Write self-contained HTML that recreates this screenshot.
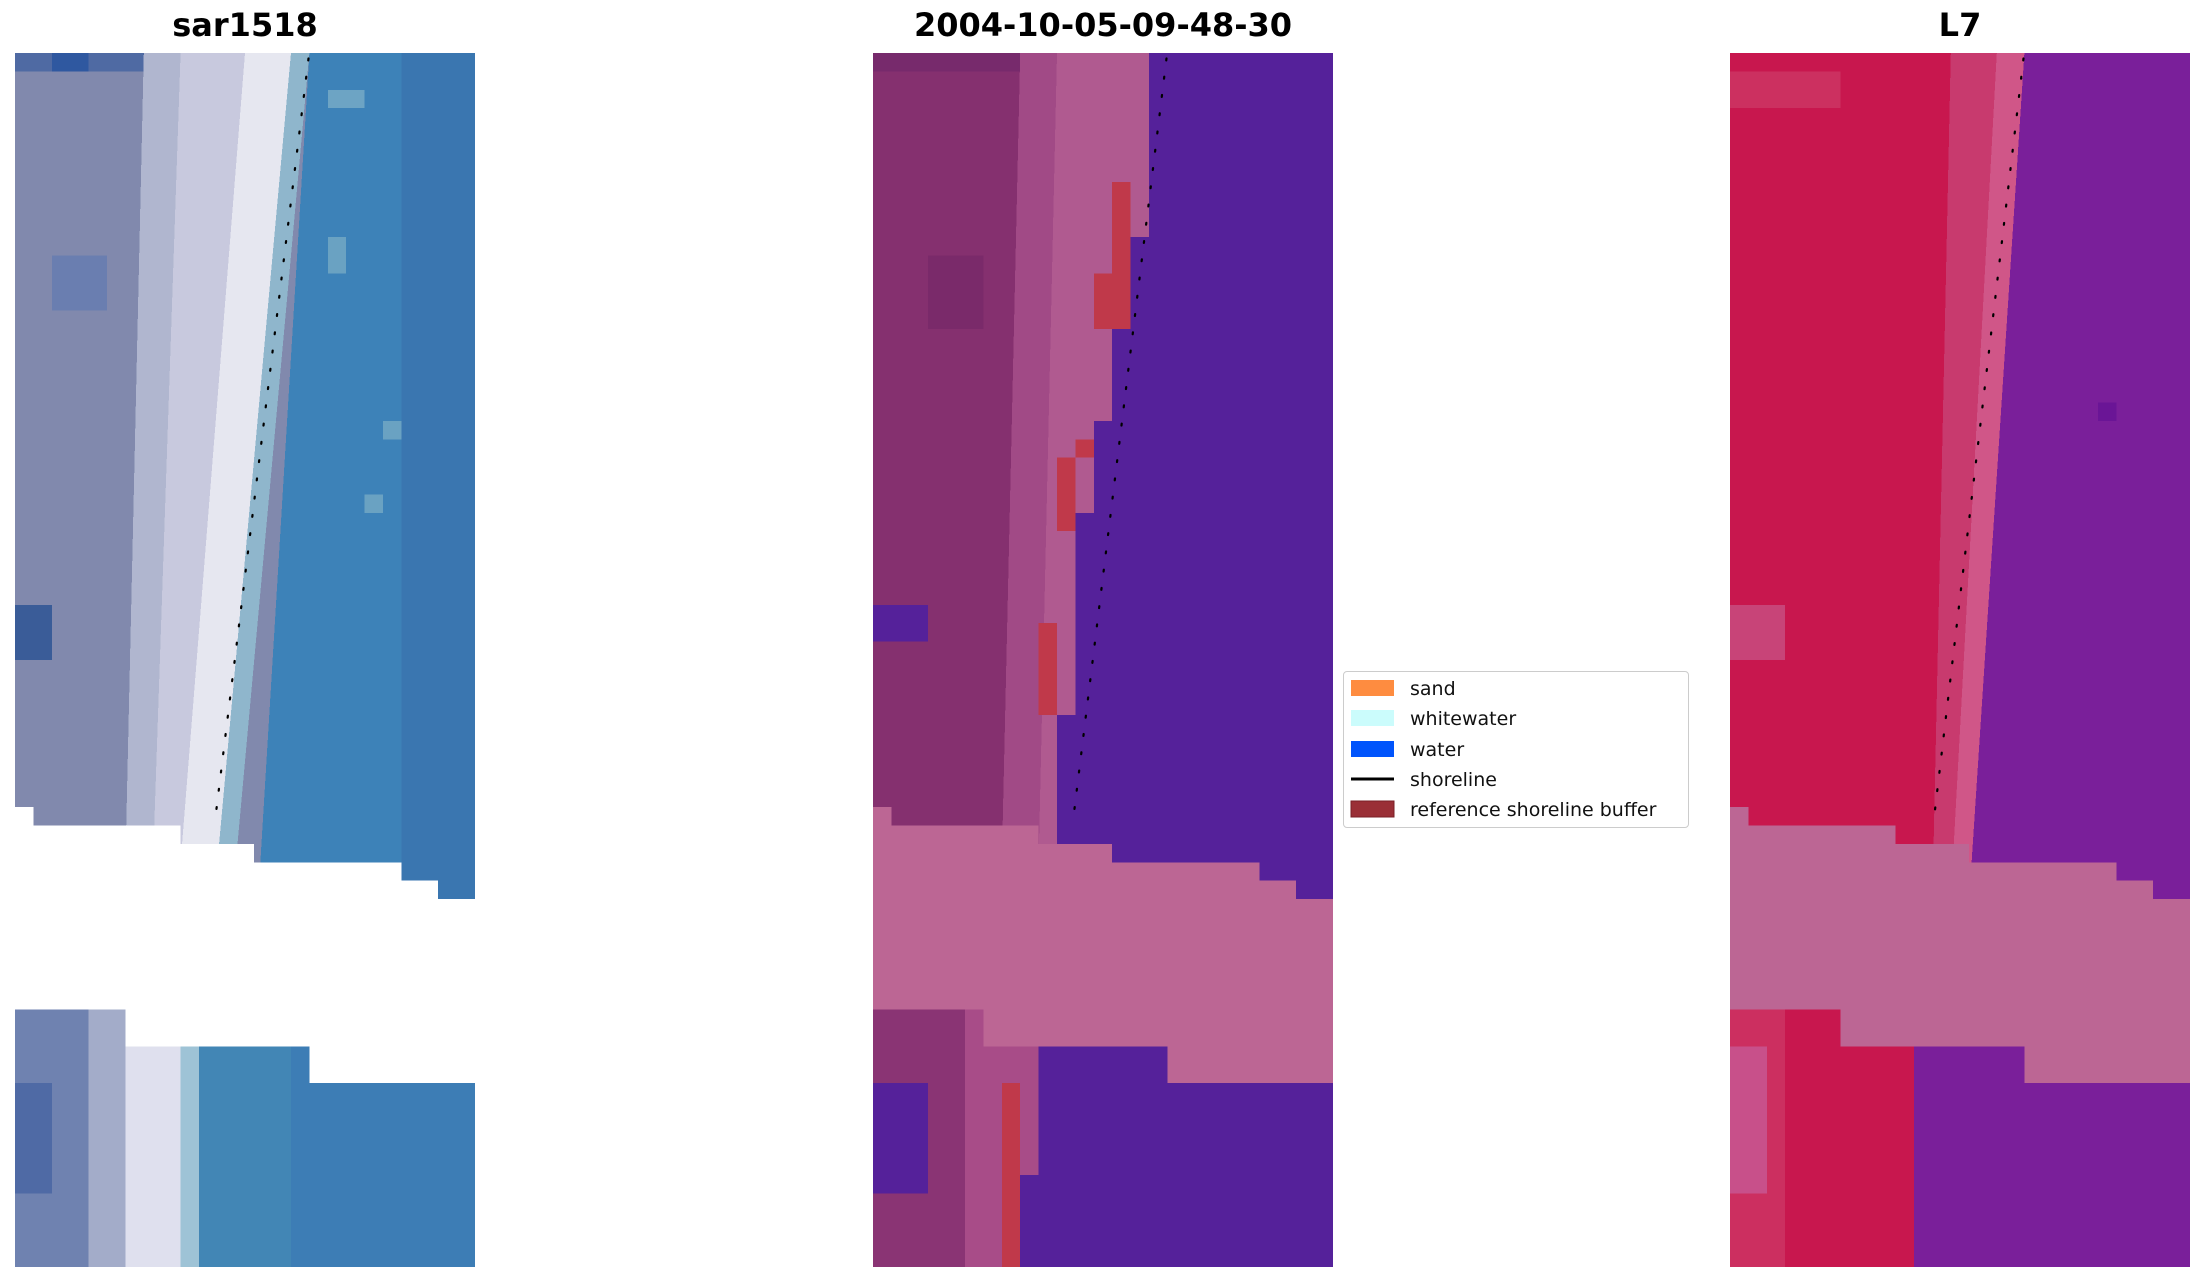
<!DOCTYPE html>
<html><head><meta charset="utf-8"><style>
body{margin:0;background:#fff;width:2205px;height:1283px;position:relative;overflow:hidden;font-family:"DejaVu Sans","Liberation Sans",sans-serif}
.t{position:absolute;top:6px;font-weight:bold;font-size:32px;text-align:center;width:460px}
svg.p{position:absolute;top:53px;width:460px;height:1214px}
</style></head><body>
<div class="t" style="left:15px">sar1518</div>
<div class="t" style="left:873px">2004-10-05-09-48-30</div>
<div class="t" style="left:1730px">L7</div>

<svg class="p" style="left:15px" viewBox="0 0 25 66" preserveAspectRatio="none" shape-rendering="crispEdges">
<rect width="25" height="66" fill="#8189ad"/>
<rect x="0" y="0" width="7" height="1" fill="#4f6aa3"/>
<rect x="2" y="0" width="2" height="1" fill="#2f58a0"/>
<rect x="0" y="30" width="2" height="3" fill="#3a5c98"/>
<rect x="2" y="11" width="3" height="3" fill="#6a7eb0"/>
<polygon points="7,0 13,0 9.5,44 6,44" fill="#b0b6cf"/>
<polygon points="9,0 13,0 10,44 7.5,44" fill="#c8c9de"/>
<polygon points="12.5,0 15,0 11,44 9,44" fill="#e6e7f0"/>
<polygon points="15,0 16,0 12,44 11,44" fill="#8fb6cc"/>
<polygon points="16,0 25,0 25,66 12,66" fill="#3d82b8"/>
<polygon points="21,0 25,0 25,66 21,66" fill="#3a76b0"/>
<rect x="17" y="2" width="2" height="1" fill="#6da4c4"/>
<rect x="17" y="10" width="1" height="2" fill="#6aa2c2"/>
<rect x="20" y="20" width="1" height="1" fill="#6aa2c2"/>
<rect x="19" y="24" width="1" height="1" fill="#6aa2c2"/>
<rect x="0" y="52" width="6" height="14" fill="#6f82b0"/>
<rect x="0" y="56" width="2" height="6" fill="#4f6aa5"/>
<rect x="4" y="52" width="2" height="14" fill="#a3acc9"/>
<rect x="6" y="52" width="3" height="14" fill="#dfe0ee"/>
<rect x="9" y="52" width="1" height="14" fill="#9ec3d6"/>
<rect x="10" y="52" width="15" height="14" fill="#4286b5"/>
<rect x="15" y="52" width="10" height="14" fill="#3d7db5"/>
<polygon points="0,41 1,41 1,42 9,42 9,43 13,43 13,44 21,44 21,45 23,45 23,46 25,46 25,56 16,56 16,54 6,54 6,52 0,52" fill="#fff"/>
<line x1="15.95" y1="0.3" x2="10.9" y2="41.5" stroke="#000" stroke-width="0.12" stroke-dasharray="0.1 0.9" stroke-linecap="round" shape-rendering="auto"/>
</svg>

<svg class="p" style="left:873px" viewBox="0 0 25 66" preserveAspectRatio="none" shape-rendering="crispEdges">
<rect width="25" height="66" fill="#85306f"/>
<rect x="0" y="0" width="8" height="1" fill="#772a6c"/>
<rect x="3" y="11" width="3" height="4" fill="#7a2a6a"/>
<polygon points="8,0 16,0 16,44 7,44" fill="#a14a86"/>
<polygon points="10,0 16,0 16,44 9,44" fill="#b05a90"/>
<polygon points="15,0 25,0 25,46 10,46 10,36 11,36 11,25 12,25 12,20 13,20 13,15 14,15 14,10 15,10" fill="#55219a"/>
<rect x="13" y="7" width="1" height="8" fill="#c0394a"/>
<rect x="12" y="12" width="2" height="3" fill="#c0394a"/>
<rect x="11" y="21" width="1" height="1" fill="#c0394a"/>
<rect x="10" y="22" width="1" height="4" fill="#c0394a"/>
<rect x="9" y="31" width="1" height="5" fill="#c0394a"/>
<rect x="0" y="30" width="3" height="2" fill="#55219a"/>
<rect x="0" y="52" width="25" height="14" fill="#8a3474"/>
<rect x="5" y="52" width="4" height="14" fill="#a84c88"/>
<rect x="9" y="54" width="16" height="12" fill="#55219a"/>
<rect x="8" y="61" width="1" height="5" fill="#55219a"/>
<rect x="0" y="56" width="3" height="6" fill="#55219a"/>
<rect x="7" y="56" width="1" height="10" fill="#c0394a"/>
<polygon points="0,41 1,41 1,42 9,42 9,43 13,43 13,44 21,44 21,45 23,45 23,46 25,46 25,56 16,56 16,54 6,54 6,52 0,52" fill="#bc6694"/>
<line x1="15.95" y1="0.3" x2="10.9" y2="41.5" stroke="#000" stroke-width="0.12" stroke-dasharray="0.1 0.9" stroke-linecap="round" shape-rendering="auto"/>
</svg>

<svg class="p" style="left:1730px" viewBox="0 0 25 66" preserveAspectRatio="none" shape-rendering="crispEdges">
<rect width="25" height="66" fill="#c8174e"/>
<rect x="0" y="1" width="6" height="2" fill="#cc3060"/>
<rect x="0" y="30" width="3" height="3" fill="#c84478"/>
<polygon points="12,0 16,0 13,46 11,46" fill="#c83a6e"/>
<polygon points="14.5,0 16,0 13,46 12,46" fill="#d05688"/>
<polygon points="16,0 25,0 25,66 13,66 13,46" fill="#7a1f9a"/>
<rect x="20" y="19" width="1" height="1" fill="#6a1596"/>
<rect x="0" y="52" width="6" height="14" fill="#cc2f60"/>
<rect x="0" y="54" width="2" height="8" fill="#c8508a"/>
<rect x="3" y="52" width="7" height="14" fill="#c8174e"/>
<rect x="10" y="52" width="15" height="14" fill="#7a1f9a"/>
<polygon points="0,41 1,41 1,42 9,42 9,43 13,43 13,44 21,44 21,45 23,45 23,46 25,46 25,56 16,56 16,54 6,54 6,52 0,52" fill="#bc6694"/>
<line x1="15.95" y1="0.3" x2="11.1" y2="41.5" stroke="#000" stroke-width="0.12" stroke-dasharray="0.1 0.9" stroke-linecap="round" shape-rendering="auto"/>
</svg>

<div style="position:absolute;left:1343px;top:671px;width:344px;height:155px;border:1px solid #ccc;border-radius:4px;background:#fff"></div>
<svg style="position:absolute;left:1343px;top:671px" width="350" height="160">
<rect x="8" y="9" width="43" height="16" fill="#fe8c40"/>
<rect x="8" y="39" width="43" height="16" fill="#cbfcfc"/>
<rect x="8" y="70" width="43" height="16" fill="#0054fc"/>
<line x1="8" y1="108" x2="51" y2="108" stroke="#000" stroke-width="3"/>
<rect x="8" y="130" width="43" height="16" fill="#9a2f36" stroke="#7a1f26"/>
<g font-family="DejaVu Sans, Liberation Sans, sans-serif" font-size="19" fill="#111">
<text x="67" y="24">sand</text>
<text x="67" y="54">whitewater</text>
<text x="67" y="85">water</text>
<text x="67" y="115">shoreline</text>
<text x="67" y="145">reference shoreline buffer</text>
</g></svg>
</body></html>
